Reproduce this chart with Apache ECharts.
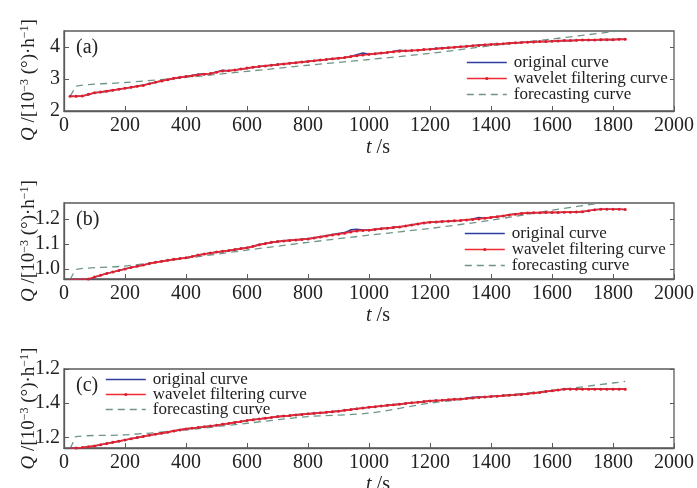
<!DOCTYPE html>
<html>
<head>
<meta charset="utf-8">
<script src="https://cdn.jsdelivr.net/npm/echarts@6/dist/echarts.min.js"></script>
<style>
  html, body { margin: 0; padding: 0; background: #fff; }
  #chart { width: 697px; height: 488px; }
</style>
</head>
<body>
<div id="chart"></div>
<script>
// time axis (s)
const TIMES = [20, 40, 60, 80, 100, 120, 140, 160, 180, 200, 220, 240, 260, 280, 300, 320, 340, 360, 380, 400,
  420, 440, 460, 480, 500, 520, 540, 560, 580, 600, 620, 640, 660, 680, 700, 720, 740, 760, 780, 800,
  820, 840, 860, 880, 900, 920, 940, 960, 980, 1000, 1020, 1040, 1060, 1080, 1100, 1120, 1140, 1160, 1180, 1200,
  1220, 1240, 1260, 1280, 1300, 1320, 1340, 1360, 1380, 1400, 1420, 1440, 1460, 1480, 1500, 1520, 1540, 1560, 1580, 1600,
  1620, 1640, 1660, 1680, 1700, 1720, 1740, 1760, 1780, 1800, 1820, 1840]

// (a)
const WAVELET_A = [2.46, 2.46, 2.47, 2.52, 2.57, 2.59, 2.62, 2.65, 2.68, 2.71, 2.74, 2.77, 2.80, 2.85, 2.90, 2.94, 2.98, 3.02, 3.05, 3.08,
  3.10, 3.13, 3.15, 3.17, 3.21, 3.25, 3.26, 3.28, 3.31, 3.34, 3.37, 3.39, 3.41, 3.43, 3.45, 3.47, 3.49, 3.51, 3.53, 3.55,
  3.57, 3.59, 3.61, 3.63, 3.65, 3.67, 3.70, 3.73, 3.75, 3.77, 3.79, 3.81, 3.83, 3.85, 3.87, 3.88, 3.89, 3.90, 3.92, 3.93,
  3.95, 3.96, 3.98, 3.99, 4.01, 4.02, 4.04, 4.05, 4.07, 4.08, 4.09, 4.10, 4.12, 4.13, 4.14, 4.15, 4.16, 4.17, 4.17, 4.18,
  4.19, 4.20, 4.20, 4.21, 4.22, 4.22, 4.22, 4.23, 4.23, 4.23, 4.24, 4.24]
const ORIGINAL_A = [2.46, 2.46, 2.47, 2.51, 2.57, 2.59, 2.62, 2.65, 2.68, 2.71, 2.74, 2.78, 2.81, 2.85, 2.90, 2.94, 2.98, 3.02, 3.05, 3.08,
  3.11, 3.15, 3.16, 3.17, 3.22, 3.27, 3.26, 3.28, 3.31, 3.33, 3.37, 3.39, 3.41, 3.43, 3.45, 3.47, 3.49, 3.51, 3.53, 3.55,
  3.57, 3.59, 3.61, 3.63, 3.65, 3.67, 3.70, 3.76, 3.81, 3.77, 3.79, 3.81, 3.83, 3.86, 3.90, 3.88, 3.89, 3.90, 3.92, 3.93,
  3.95, 3.97, 3.98, 3.99, 4.01, 4.02, 4.04, 4.06, 4.07, 4.08, 4.09, 4.10, 4.12, 4.13, 4.14, 4.15, 4.16, 4.17, 4.17, 4.18,
  4.19, 4.20, 4.20, 4.21, 4.22, 4.22, 4.22, 4.23, 4.23, 4.23, 4.24, 4.24]

// (b)
const WAVELET_B = [0.958, 0.958, 0.959, 0.960, 0.968, 0.975, 0.982, 0.988, 0.994, 1.000, 1.006, 1.011, 1.016, 1.022, 1.027, 1.031, 1.035, 1.039, 1.042, 1.045,
  1.050, 1.056, 1.060, 1.064, 1.068, 1.071, 1.074, 1.078, 1.082, 1.085, 1.091, 1.097, 1.102, 1.107, 1.110, 1.113, 1.115, 1.117, 1.119, 1.121,
  1.125, 1.129, 1.133, 1.137, 1.140, 1.144, 1.149, 1.153, 1.155, 1.156, 1.159, 1.162, 1.164, 1.167, 1.169, 1.173, 1.177, 1.181, 1.185, 1.188,
  1.189, 1.191, 1.192, 1.194, 1.195, 1.197, 1.199, 1.201, 1.204, 1.207, 1.210, 1.213, 1.217, 1.220, 1.223, 1.225, 1.226, 1.226, 1.227, 1.227,
  1.227, 1.228, 1.228, 1.229, 1.230, 1.234, 1.238, 1.240, 1.240, 1.240, 1.240, 1.239]
const ORIGINAL_B = [0.958, 0.958, 0.958, 0.957, 0.967, 0.975, 0.982, 0.988, 0.994, 1.000, 1.006, 1.011, 1.016, 1.022, 1.027, 1.031, 1.035, 1.039, 1.042, 1.045,
  1.050, 1.056, 1.060, 1.064, 1.068, 1.071, 1.074, 1.078, 1.082, 1.085, 1.091, 1.098, 1.102, 1.107, 1.110, 1.113, 1.115, 1.117, 1.119, 1.121,
  1.125, 1.129, 1.133, 1.138, 1.142, 1.146, 1.157, 1.159, 1.156, 1.156, 1.159, 1.162, 1.164, 1.167, 1.169, 1.173, 1.177, 1.181, 1.185, 1.188,
  1.189, 1.191, 1.192, 1.194, 1.195, 1.197, 1.201, 1.207, 1.204, 1.207, 1.210, 1.213, 1.218, 1.221, 1.223, 1.225, 1.226, 1.226, 1.227, 1.227,
  1.227, 1.228, 1.228, 1.229, 1.230, 1.234, 1.238, 1.240, 1.240, 1.240, 1.240, 1.239]

// (c)
const WAVELET_C = [1.135, 1.137, 1.140, 1.144, 1.149, 1.156, 1.163, 1.170, 1.177, 1.184, 1.191, 1.198, 1.205, 1.212, 1.218, 1.224, 1.230, 1.237, 1.243, 1.249,
  1.253, 1.257, 1.261, 1.266, 1.270, 1.276, 1.281, 1.287, 1.292, 1.298, 1.303, 1.307, 1.312, 1.316, 1.321, 1.324, 1.327, 1.331, 1.334, 1.337,
  1.340, 1.343, 1.346, 1.350, 1.353, 1.358, 1.362, 1.367, 1.371, 1.376, 1.379, 1.383, 1.387, 1.390, 1.394, 1.398, 1.402, 1.405, 1.409, 1.413,
  1.415, 1.417, 1.420, 1.422, 1.424, 1.427, 1.430, 1.433, 1.436, 1.439, 1.441, 1.444, 1.446, 1.449, 1.451, 1.455, 1.459, 1.463, 1.468, 1.472,
  1.477, 1.482, 1.482, 1.482, 1.482, 1.482, 1.482, 1.482, 1.482, 1.482, 1.482, 1.482]
const ORIGINAL_C = [1.135, 1.137, 1.140, 1.144, 1.149, 1.156, 1.163, 1.170, 1.177, 1.184, 1.191, 1.198, 1.205, 1.212, 1.218, 1.224, 1.230, 1.237, 1.243, 1.249,
  1.253, 1.257, 1.261, 1.266, 1.270, 1.276, 1.281, 1.287, 1.292, 1.298, 1.303, 1.307, 1.312, 1.316, 1.321, 1.324, 1.327, 1.331, 1.334, 1.337,
  1.340, 1.343, 1.346, 1.350, 1.353, 1.358, 1.362, 1.367, 1.371, 1.376, 1.379, 1.383, 1.387, 1.390, 1.394, 1.398, 1.402, 1.405, 1.409, 1.413,
  1.415, 1.417, 1.420, 1.422, 1.424, 1.428, 1.434, 1.436, 1.437, 1.439, 1.441, 1.444, 1.446, 1.449, 1.451, 1.455, 1.459, 1.463, 1.468, 1.472,
  1.477, 1.482, 1.482, 1.482, 1.482, 1.482, 1.482, 1.482, 1.482, 1.482, 1.482, 1.482]

// forecasting curves
const FC_TIMES = [20, 30, 40, 200, 400, 600, 800, 1000, 1200, 1400, 1600, 1800, 1840]
const FORECAST_A = [2.46, 2.62, 2.78, 2.89, 3.05, 3.24, 3.43, 3.61, 3.80, 4.04, 4.25, 4.48, 4.53]
const FORECAST_B = [0.958, 0.980, 0.999, 1.012, 1.043, 1.076, 1.107, 1.136, 1.163, 1.196, 1.236, 1.273, 1.281]
const FORECAST_C = [1.135, 1.170, 1.204, 1.214, 1.243, 1.282, 1.321, 1.341, 1.400, 1.439, 1.474, 1.518, 1.527]

// y tick values and their printed labels
const Y_TICKS_A = [2, 3, 4]
const Y_LABELS_A = ['2', '3', '4']
const Y_TICKS_B = [1.0, 1.1, 1.2]
const Y_LABELS_B = ['1.0', '1.1', '1.2']
const Y_TICKS_C = [1.2, 1.4, 1.6]
const Y_LABELS_C = ['1.2', '1.4', '1.2']

const PANEL_TAGS = ['(a)', '(b)', '(c)']
const LEGEND_NAMES = ['original curve', 'wavelet filtering curve', 'forecasting curve']

const FONT = 'Liberation Serif'
const COLOR_ORIG = '#2f3f9e'
const COLOR_WAVE = '#ee2b36'
const COLOR_FC = '#6f9587'
const AXIS_COLOR = '#5a5a5a'

const panels = [
  { top: 31, height: 80, ymin: 2, ymax: 4.5, ticks: Y_TICKS_A, labels: Y_LABELS_A, orig: ORIGINAL_A, wave: WAVELET_A, fc: FORECAST_A,
    legend: { left: 466, top: 54, gap: -1 }, namePad: [0, 18, 0, 0] },
  { top: 203, height: 76, ymin: 0.96, ymax: 1.265, ticks: Y_TICKS_B, labels: Y_LABELS_B, orig: ORIGINAL_B, wave: WAVELET_B, fc: FORECAST_B,
    legend: { left: 464, top: 225, gap: -1 }, namePad: [0, 0, 0, 0] },
  { top: 369, height: 79, ymin: 1.137, ymax: 1.6, ticks: Y_TICKS_C, labels: Y_LABELS_C, orig: ORIGINAL_C, wave: WAVELET_C, fc: FORECAST_C,
    legend: { left: 105, top: 371, gap: -2 }, namePad: [0, 0, 0, 0] }
]

const pairs = (xs, ys) => xs.map((x, i) => [x, ys[i]])

const grid = [], xAxis = [], yAxis = [], series = [], legend = [], graphic = []

panels.forEach((p, i) => {
  grid.push({ left: 64, width: 610, top: p.top, height: p.height, show: true, borderColor: AXIS_COLOR, borderWidth: 1.3,
    outerBoundsMode: 'none', containLabel: false })

  xAxis.push({
    type: 'value', gridIndex: i, min: 0, max: 2000, interval: 200,
    name: '{i|t} /s', nameLocation: 'middle', nameGap: 27, nameMoveOverlap: false,
    nameTextStyle: { fontFamily: FONT, fontSize: 20, color: '#222', padding: [0, 0, 0, 18],
      rich: { i: { fontFamily: FONT, fontSize: 20, fontStyle: 'italic', color: '#222' } } },
    axisLine: { show: true, lineStyle: { color: AXIS_COLOR, width: 1.3 } },
    axisTick: { inside: true, length: 5, lineStyle: { color: AXIS_COLOR } },
    axisLabel: { fontFamily: FONT, fontSize: 20, color: '#222', margin: 5, formatter: v => String(v) },
    splitLine: { show: false }
  })

  const fmt = (v) => {
    const k = p.ticks.findIndex(t => Math.abs(t - v) < 1e-6)
    return k < 0 ? '' : p.labels[k]
  }
  yAxis.push({
    type: 'value', gridIndex: i, min: p.ymin, max: p.ymax,
    name: '{i|Q} /[10{s|−3} (°)·h{s|−1}]', nameLocation: 'middle', nameGap: 25, nameRotate: 90, nameMoveOverlap: false,
    nameTextStyle: { fontFamily: FONT, fontSize: 19, color: '#222', padding: p.namePad,
      rich: {
        i: { fontFamily: FONT, fontSize: 19, fontStyle: 'italic', color: '#222' },
        s: { fontFamily: FONT, fontSize: 12, color: '#222', verticalAlign: 'top', padding: [0, 0, 8, 0] }
      } },
    axisLine: { show: true, lineStyle: { color: AXIS_COLOR, width: 1.3 } },
    axisTick: { inside: true, length: 5, customValues: p.ticks, lineStyle: { color: AXIS_COLOR } },
    axisLabel: { fontFamily: FONT, fontSize: 20, color: '#222', margin: 4, customValues: p.ticks, formatter: fmt },
    splitLine: { show: false }
  })
  // mirror ticks on the right edge
  yAxis.push({
    type: 'value', gridIndex: i, min: p.ymin, max: p.ymax, position: 'right',
    axisLine: { show: false },
    axisTick: { inside: true, length: 4, customValues: p.ticks, lineStyle: { color: AXIS_COLOR } },
    axisLabel: { show: false },
    splitLine: { show: false }
  })

  const yIdx = i * 2
  series.push({
    type: 'line', name: LEGEND_NAMES[0], xAxisIndex: i, yAxisIndex: yIdx,
    data: pairs(TIMES, p.orig), symbol: 'none', lineStyle: { color: COLOR_ORIG, width: 1.6 },
    itemStyle: { color: COLOR_ORIG }, z: 2
  })
  series.push({
    type: 'line', name: LEGEND_NAMES[1], xAxisIndex: i, yAxisIndex: yIdx,
    data: pairs(TIMES, p.wave), symbol: 'circle', symbolSize: 3, showSymbol: true,
    lineStyle: { color: COLOR_WAVE, width: 1.7 }, itemStyle: { color: '#d81f2a' }, z: 3
  })
  series.push({
    type: 'line', name: LEGEND_NAMES[2], xAxisIndex: i, yAxisIndex: yIdx,
    data: pairs(FC_TIMES, p.fc), symbol: 'none', smooth: 0.3,
    lineStyle: { color: COLOR_FC, width: 1.3, type: [7, 5] }, itemStyle: { color: COLOR_FC }, z: 1
  })

  legend.push({
    orient: 'vertical', left: p.legend.left, top: p.legend.top, itemGap: p.legend.gap,
    itemWidth: 40, itemHeight: 4, padding: 0,
    data: [
      { name: LEGEND_NAMES[0], itemStyle: { opacity: 0 } },
      { name: LEGEND_NAMES[1] },
      { name: LEGEND_NAMES[2], itemStyle: { opacity: 0 } }
    ],
    lineStyle: { width: 1.6 },
    textStyle: { fontFamily: FONT, fontSize: 17, color: '#222', padding: [0, 0, 0, 2] },
    selectedMode: false,
    seriesIndex: [i * 3, i * 3 + 1, i * 3 + 2]
  })

  graphic.push({
    type: 'text', left: 76, top: p.top + 7,
    style: { text: PANEL_TAGS[i], font: '20px "' + FONT + '"', fill: '#222' }
  })
})

const chart = echarts.init(document.getElementById('chart'), null, { renderer: 'canvas' })
chart.setOption({
  animation: false,
  backgroundColor: '#fff',
  grid, xAxis, yAxis, series, legend, graphic
})
</script>
</body>
</html>
